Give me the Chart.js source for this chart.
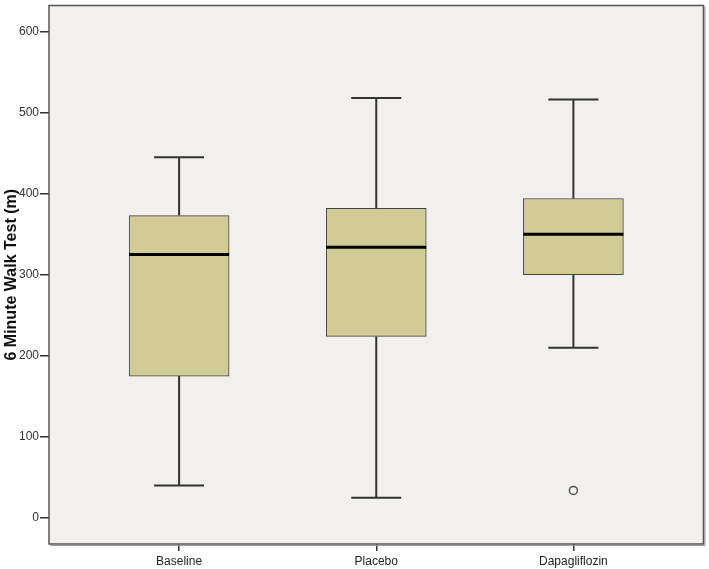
<!DOCTYPE html>
<html>
<head>
<meta charset="utf-8">
<script src="https://cdn.jsdelivr.net/npm/chart.js@4/dist/chart.umd.min.js"></script>
<style>
  html, body { margin: 0; padding: 0; background: #fff; }
  #wrap { width: 709px; height: 569px; }
</style>
</head>
<body>
<div id="wrap"><canvas id="walkChart"></canvas></div>
<script>
// box plot values (6 minute walk test, metres)
const groups = ['Baseline', 'Placebo', 'Dapagliflozin'];
const whiskerLow = [40, 25, 210];
const q1 = [175, 224, 300];
const median = [325, 334, 350];
const q3 = [373, 382, 394];
const whiskerHigh = [445, 518, 516];
const outliers = [{ group: 2, value: 34 }];
const yTicks = [0, 100, 200, 300, 400, 500, 600];

const boxFill = '#d1cc96';
const lineColor = '#333333';
const plotBg = '#f1f0ef';

// whiskers, caps and medians drawn on top of the floating bars
const boxPlotLines = {
    id: 'boxPlotLines',
    beforeDraw(chart) {
        const { ctx, chartArea: a } = chart;
        ctx.save();
        ctx.fillStyle = plotBg;
        ctx.fillRect(a.left, a.top, a.right - a.left, a.bottom - a.top);
        ctx.restore();
    },
    afterDatasetsDraw(chart) {
        const { ctx } = chart;
        const x = chart.scales.x;
        const y = chart.scales.y;
        const capHalf = 25;
        const boxHalf = 50;
        ctx.save();
        groups.forEach((g, i) => {
            const cx = x.getPixelForValue(i);
            ctx.strokeStyle = lineColor;
            ctx.lineWidth = 2;
            ctx.beginPath();
            ctx.moveTo(cx, y.getPixelForValue(q3[i]));
            ctx.lineTo(cx, y.getPixelForValue(whiskerHigh[i]));
            ctx.moveTo(cx, y.getPixelForValue(q1[i]));
            ctx.lineTo(cx, y.getPixelForValue(whiskerLow[i]));
            ctx.moveTo(cx - capHalf, y.getPixelForValue(whiskerHigh[i]));
            ctx.lineTo(cx + capHalf, y.getPixelForValue(whiskerHigh[i]));
            ctx.moveTo(cx - capHalf, y.getPixelForValue(whiskerLow[i]));
            ctx.lineTo(cx + capHalf, y.getPixelForValue(whiskerLow[i]));
            ctx.stroke();

            ctx.strokeStyle = '#000';
            ctx.lineWidth = 3;
            ctx.beginPath();
            ctx.moveTo(cx - boxHalf, y.getPixelForValue(median[i]));
            ctx.lineTo(cx + boxHalf, y.getPixelForValue(median[i]));
            ctx.stroke();
        });
        ctx.restore();
    },
    afterDraw(chart) {
        const { ctx, chartArea: a } = chart;
        ctx.save();
        // faint shadow on the right and bottom like the SPSS frame
        ctx.strokeStyle = '#9a9a9a';
        ctx.lineWidth = 1;
        ctx.beginPath();
        ctx.moveTo(a.right + 1.5, a.top + 1);
        ctx.lineTo(a.right + 1.5, a.bottom + 1.5);
        ctx.lineTo(a.left + 1, a.bottom + 1.5);
        ctx.stroke();
        ctx.strokeStyle = '#555';
        ctx.lineWidth = 1.5;
        ctx.strokeRect(a.left, a.top, a.right - a.left, a.bottom - a.top);
        ctx.restore();
    }
};

const ctx = document.getElementById('walkChart').getContext('2d');

new Chart(ctx, {
    type: 'bar',
    data: {
        datasets: [{
            label: 'Interquartile range',
            data: groups.map((g, i) => ({ x: i, y: [q1[i], q3[i]] })),
            backgroundColor: boxFill,
            borderColor: '#444',
            borderWidth: 1,
            borderSkipped: false,
            barThickness: 100,
            order: 2
        }, {
            type: 'scatter',
            label: 'Outliers',
            data: outliers.map(o => ({ x: o.group, y: o.value })),
            pointRadius: 4,
            pointHoverRadius: 4,
            pointBackgroundColor: plotBg,
            pointBorderColor: '#555',
            pointBorderWidth: 1.5,
            order: 1
        }]
    },
    options: {
        responsive: true,
        maintainAspectRatio: false,
        animation: false,
        layout: {
            padding: { top: 3, right: 0, left: 0, bottom: 0 }
        },
        plugins: {
            legend: { display: false },
            tooltip: { enabled: false }
        },
        scales: {
            x: {
                type: 'linear',
                min: -0.66,
                max: 2.66,
                offset: false,
                afterBuildTicks: s => { s.ticks = groups.map((g, i) => ({ value: i })); },
                afterFit: s => { s.height = 25; s.paddingLeft = 0; s.paddingRight = 0; },
                grid: {
                    offset: false,
                    drawOnChartArea: false,
                    drawTicks: true,
                    tickLength: 7,
                    color: lineColor,
                    lineWidth: 1.5
                },
                border: { display: false },
                ticks: {
                    padding: 3,
                    color: '#222',
                    font: { family: 'Liberation Sans, Arial', size: 12 },
                    callback: v => groups[v]
                }
            },
            y: {
                min: -32,
                max: 632,
                afterBuildTicks: s => { s.ticks = yTicks.map(v => ({ value: v })); },
                afterFit: s => { s.width = 49; s.paddingTop = 0; s.paddingBottom = 0; },
                grid: {
                    drawOnChartArea: false,
                    drawTicks: true,
                    tickLength: 9,
                    color: lineColor,
                    lineWidth: 1.5
                },
                border: { display: false },
                ticks: {
                    padding: 1,
                    color: '#333',
                    font: { family: 'Liberation Sans, Arial', size: 12 }
                },
                title: {
                    display: true,
                    text: '6 Minute Walk Test (m)',
                    color: '#111',
                    padding: { top: 2, bottom: 0 },
                    font: { family: 'Liberation Sans, Arial', size: 16, weight: 'bold' }
                }
            }
        }
    },
    plugins: [boxPlotLines]
});
</script>
</body>
</html>
